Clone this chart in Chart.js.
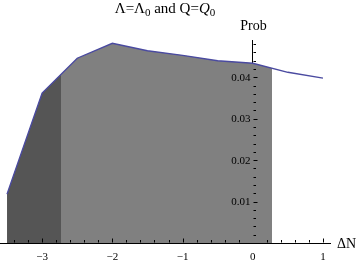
<!DOCTYPE html>
<html>
<head>
<meta charset="utf-8">
<script src="https://cdn.jsdelivr.net/npm/chart.js@4"></script>
<style>
  html, body { margin: 0; padding: 0; background: #fff; }
</style>
</head>
<body>
<canvas id="probChart" width="360" height="260"></canvas>
<script>
// values
const deltaN = [-3.5, -3, -2.5, -2, -1.5, -1, -0.5, 0, 0.5, 1];
const prob = [0.0118, 0.0362, 0.0446, 0.0482, 0.0464, 0.0453, 0.0440, 0.0434, 0.0412, 0.0398];
const xTickLabels = [-3, -2, -1, 0, 1];
const yTickLabels = [0.01, 0.02, 0.03, 0.04];
// shaded bands under the curve (ΔN ranges)
const darkBand = [-3.5, -2.73];
const lightBand = [-2.73, 0.28];

const serif = '"Liberation Serif", "Times New Roman", serif';
const darkGray = '#555555';
const lightGray = '#808080';

// hard-stop gradient so the area under the curve gets the two bands
function bandFill(context) {
    const chart = context.chart;
    const area = chart.chartArea;
    const xs = chart.scales.x;
    if (!area || !xs) return 'rgba(0,0,0,0)';
    const w = area.right - area.left;
    const f = v => Math.min(1, Math.max(0, (xs.getPixelForValue(v) - area.left) / w));
    const g = chart.ctx.createLinearGradient(area.left, 0, area.right, 0);
    g.addColorStop(0, darkGray);
    g.addColorStop(f(darkBand[1]), darkGray);
    g.addColorStop(f(lightBand[0]), lightGray);
    g.addColorStop(f(lightBand[1]), lightGray);
    g.addColorStop(f(lightBand[1]), 'rgba(255,255,255,0)');
    g.addColorStop(1, 'rgba(255,255,255,0)');
    return g;
}

// Mathematica-like axes: inward ticks, y labels, axis labels and a mixed-style title
const decorations = {
    id: 'decorations',
    afterDraw(chart) {
        const { ctx, chartArea, scales: { x, y } } = chart;
        const x0 = Math.round(x.getPixelForValue(0)) + 0.5;
        const y0 = Math.round(y.getPixelForValue(0)) - 0.5;
        ctx.save();
        ctx.strokeStyle = '#000';
        ctx.lineWidth = 1;
        ctx.beginPath();
        for (let i = -17; i <= 5; i++) {
            if (i === 0) continue;
            const px = Math.round(x.getPixelForValue(i / 5)) + 0.5;
            const len = i % 5 === 0 ? 4 : 2.5;
            ctx.moveTo(px, y0);
            ctx.lineTo(px, y0 - len);
        }
        for (let i = 1; i <= 24; i++) {
            const py = Math.round(y.getPixelForValue(i * 0.002)) + 0.5;
            const len = i % 5 === 0 ? 4 : 2.5;
            ctx.moveTo(x0, py);
            ctx.lineTo(x0 + len, py);
        }
        ctx.stroke();

        ctx.fillStyle = '#000';
        ctx.font = '11px ' + serif;
        ctx.textAlign = 'right';
        ctx.textBaseline = 'middle';
        yTickLabels.forEach(v => {
            ctx.fillText(v.toFixed(2), x0 - 3, y.getPixelForValue(v) + 0.5);
        });

        ctx.font = '14px ' + serif;
        ctx.textBaseline = 'alphabetic';
        ctx.textAlign = 'center';
        ctx.fillText('Prob', x0, 30);
        ctx.textAlign = 'left';
        ctx.fillText('ΔN', 337, y0 + 5);

        // title: Λ=Λ0 and Q=Q0
        const runs = [
            { t: 'Λ=Λ', font: '15px ' + serif, dy: 0 },
            { t: '0', font: '11px ' + serif, dy: 3 },
            { t: ' and Q=', font: '15px ' + serif, dy: 0 },
            { t: 'Q', font: 'italic 15px ' + serif, dy: 0 },
            { t: '0', font: '11px ' + serif, dy: 3 }
        ];
        let total = 0;
        runs.forEach(r => { ctx.font = r.font; r.w = ctx.measureText(r.t).width; total += r.w; });
        let cx = (chartArea.left + chartArea.right) / 2 - total / 2;
        runs.forEach(r => {
            ctx.font = r.font;
            ctx.fillText(r.t, cx, 13 + r.dy);
            cx += r.w;
        });
        ctx.restore();
    }
};

new Chart(document.getElementById('probChart'), {
    type: 'line',
    data: {
        datasets: [{
            data: deltaN.map((v, i) => ({ x: v, y: prob[i] })),
            borderColor: '#4a4aa0',
            borderWidth: 1.4,
            pointRadius: 0,
            tension: 0,
            fill: 'origin',
            backgroundColor: bandFill
        }]
    },
    options: {
        responsive: false,
        animation: false,
        layout: { padding: { left: 0, right: 30, top: 40, bottom: 17 } },
        plugins: {
            legend: { display: false },
            title: { display: false },
            tooltip: { enabled: false }
        },
        scales: {
            x: {
                type: 'linear',
                min: -3.6,
                max: 1.1,
                position: { y: 0 },
                grid: { drawOnChartArea: false, drawTicks: false },
                border: { color: '#000', width: 1 },
                afterBuildTicks: s => { s.ticks = xTickLabels.map(v => ({ value: v })); },
                ticks: {
                    color: '#000',
                    font: { family: serif, size: 11 },
                    padding: 8,
                    maxRotation: 0,
                    autoSkip: false,
                    callback: v => (v < 0 ? '\u2212' + Math.abs(v) : String(v))
                }
            },
            y: {
                type: 'linear',
                min: 0,
                max: 0.049,
                position: { x: 0 },
                grid: { drawOnChartArea: false, drawTicks: false },
                border: { color: '#000', width: 1 },
                afterBuildTicks: s => { s.ticks = yTickLabels.map(v => ({ value: v })); },
                ticks: { display: false }
            }
        }
    },
    plugins: [decorations]
});
</script>
</body>
</html>
